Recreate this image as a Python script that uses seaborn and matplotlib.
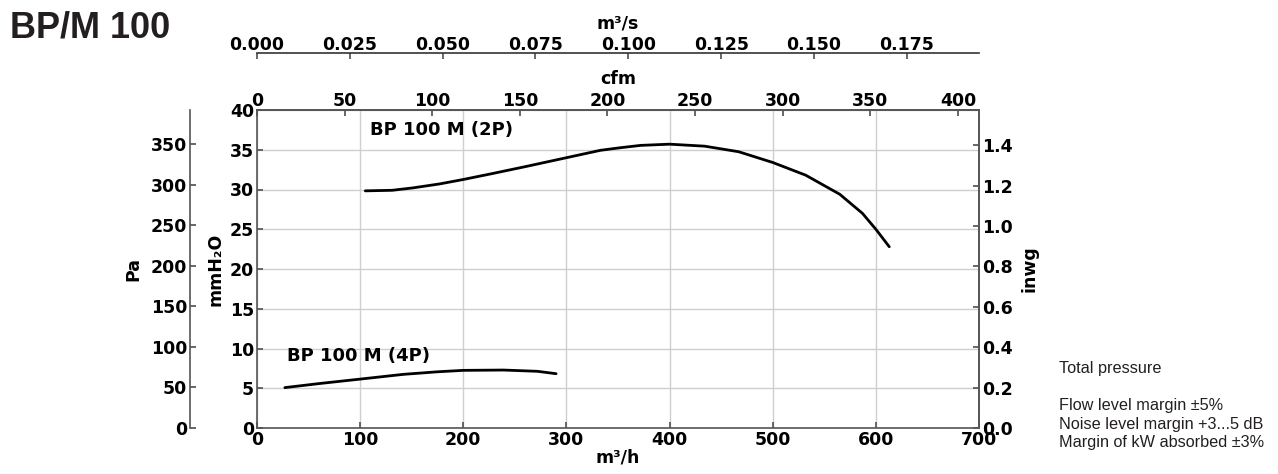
import numpy as np
import pandas as pd
import matplotlib
matplotlib.use("Agg")
import matplotlib.pyplot as plt
from matplotlib.ticker import FormatStrFormatter
import seaborn as sns

# --- data (flow in m3/h, pressure in mmH2O) ---
flow_2p = [105, 131, 151, 177, 200, 228, 261, 300, 333, 352, 372, 400,
           434, 467, 500, 532, 565, 587, 600, 613]
press_2p = [29.83, 29.9, 30.2, 30.7, 31.26, 32.0, 32.9, 34.0, 34.93, 35.25, 35.55, 35.7,
            35.45, 34.75, 33.4, 31.8, 29.4, 27.0, 25.0, 22.8]

flow_4p = [27, 61, 100, 142, 175, 200, 239, 272, 290]
press_4p = [5.08, 5.6, 6.15, 6.75, 7.07, 7.25, 7.29, 7.13, 6.83]

labels = ["BP 100 M (2P)", "BP 100 M (4P)"]
x_ticks = [0, 100, 200, 300, 400, 500, 600, 700]
y_ticks = [0, 5, 10, 15, 20, 25, 30, 35, 40]
cfm_ticks = [0, 50, 100, 150, 200, 250, 300, 350, 400]
ms_ticks = [0.000, 0.025, 0.050, 0.075, 0.100, 0.125, 0.150, 0.175]
pa_ticks = [0, 50, 100, 150, 200, 250, 300, 350]
inwg_ticks = [0.0, 0.2, 0.4, 0.6, 0.8, 1.0, 1.2, 1.4]

notes = "Total pressure\n\nFlow level margin \u00b15%\nNoise level margin +3...5 dB\nMargin of kW absorbed \u00b13%"

X_MAX, Y_MAX = 700, 40
PA_PER_MM = 9.80665
MM_PER_IN = 25.4
M3H_PER_CFM = 1.699

df = pd.concat([
    pd.DataFrame({"flow": flow_2p, "press": press_2p, "curve": labels[0]}),
    pd.DataFrame({"flow": flow_4p, "press": press_4p, "curve": labels[1]}),
])

sns.set_theme(style="white")
plt.rcParams["font.family"] = ["DejaVu Sans"]
plt.rcParams["font.weight"] = "bold"
plt.rcParams["xtick.direction"] = "in"
plt.rcParams["ytick.direction"] = "in"
plt.rcParams["text.color"] = "black"
plt.rcParams["axes.labelcolor"] = "black"

spine_col = "#555555"
fs = 12.5
px = 72 / 100  # pixels -> points at dpi 100

fig = plt.figure(figsize=(12.78, 4.74), dpi=100)
ax = fig.add_axes([257 / 1278, 1 - 428 / 474, (979 - 257) / 1278, (428 - 110) / 474])

for name in labels:
    sns.lineplot(data=df[df["curve"] == name], x="flow", y="press", ax=ax,
                 color="black", linewidth=2, legend=False)

ax.set_xlim(0, X_MAX)
ax.set_ylim(0, Y_MAX)
ax.set_xticks(x_ticks)
ax.set_yticks(y_ticks)
ax.grid(True, color="#cfcfcf", linewidth=1)
ax.set_xlabel("m\u00b3/h", fontsize=fs, fontweight="bold", labelpad=0)
ax.set_ylabel("mmH\u2082O", fontsize=fs, fontweight="bold", labelpad=4)
ax.tick_params(axis="both", labelsize=fs, length=4, pad=2, color=spine_col, labelcolor="black")
for s in ax.spines.values():
    s.set_color(spine_col)
    s.set_linewidth(1.2)

ax.text(110, 37.5, labels[0], fontsize=13, fontweight="bold", ha="left", va="center")
ax.text(29, 9.05, labels[1], fontsize=13, fontweight="bold", ha="left", va="center")

# Pa axis (left, offset)
ax_pa = ax.twinx()
ax_pa.set_ylim(0, Y_MAX * PA_PER_MM)
ax_pa.set_yticks(pa_ticks)
ax_pa.yaxis.set_ticks_position("left")
ax_pa.yaxis.set_label_position("left")
ax_pa.spines["left"].set_position(("outward", 67 * px))
for k in ["right", "top", "bottom"]:
    ax_pa.spines[k].set_visible(False)
ax_pa.spines["left"].set_visible(True)
ax_pa.spines["left"].set_color(spine_col)
ax_pa.spines["left"].set_linewidth(1.2)
ax_pa.set_ylabel("Pa", fontsize=fs, fontweight="bold", labelpad=6)
ax_pa.tick_params(axis="y", labelsize=fs, length=4, pad=2, color=spine_col, labelcolor="black")

# inwg axis (right)
ax_in = ax.twinx()
ax_in.set_ylim(0, Y_MAX / MM_PER_IN)
ax_in.set_yticks(inwg_ticks)
ax_in.yaxis.set_major_formatter(FormatStrFormatter("%.1f"))
for k in ["left", "top", "bottom"]:
    ax_in.spines[k].set_visible(False)
ax_in.spines["right"].set_color(spine_col)
ax_in.set_ylabel("inwg", fontsize=fs, fontweight="bold", labelpad=6)
ax_in.tick_params(axis="y", labelsize=fs, length=4, pad=2, color=spine_col, labelcolor="black")

# cfm axis (top)
ax_cfm = ax.twiny()
ax_cfm.set_xlim(0, X_MAX / M3H_PER_CFM)
ax_cfm.set_xticks(cfm_ticks)
for k in ["left", "right", "bottom"]:
    ax_cfm.spines[k].set_visible(False)
ax_cfm.spines["top"].set_color(spine_col)
ax_cfm.set_xlabel("cfm", fontsize=fs, fontweight="bold", labelpad=6)
ax_cfm.tick_params(axis="x", labelsize=fs, length=4, pad=0, color=spine_col, labelcolor="black")

# m3/s axis (top, offset)
ax_ms = ax.twiny()
ax_ms.set_xlim(0, X_MAX / 3600)
ax_ms.set_xticks(ms_ticks)
ax_ms.xaxis.set_major_formatter(FormatStrFormatter("%.3f"))
ax_ms.spines["top"].set_position(("outward", 57 * px))
for k in ["left", "right", "bottom"]:
    ax_ms.spines[k].set_visible(False)
ax_ms.spines["top"].set_color("#333333")
ax_ms.spines["top"].set_linewidth(1.2)
ax_ms.set_xlabel("m\u00b3/s", fontsize=fs, fontweight="bold", labelpad=6)
ax_ms.tick_params(axis="x", labelsize=fs, length=4, pad=-1, color=spine_col, labelcolor="black")

fig.text(10 / 1278, 1 - 28 / 474, "BP/M 100", fontsize=26,
         family=["Liberation Sans Narrow", "Liberation Sans", "DejaVu Sans"],
         fontweight="bold", ha="left", va="center", color="#231f20")

fig.text(1059 / 1278, 1 - 361 / 474, notes, fontsize=11.7, fontweight="normal",
         family=["Liberation Sans", "DejaVu Sans"], ha="left", va="top",
         linespacing=1.3, color="#231f20")

fig.savefig("out.png", dpi=100)
